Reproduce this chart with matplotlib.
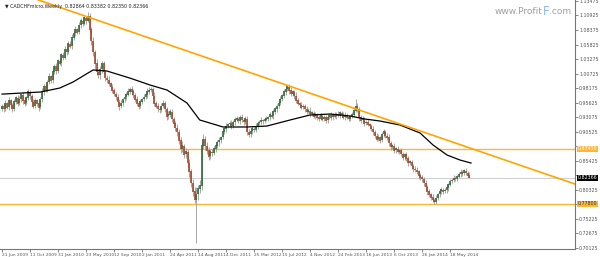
import numpy as np
import matplotlib
matplotlib.use('Agg')
import matplotlib.pyplot as plt

# weekly closes, CADCHF from 21 Jun 2009 (week 0)
closes = [
    0.950, 0.945, 0.955, 0.948, 0.960, 0.952, 0.945, 0.958, 0.965, 0.955,
    0.962, 0.970, 0.960, 0.955, 0.965, 0.975, 0.968, 0.958, 0.950, 0.960,
    0.955, 0.948, 0.962, 0.975, 0.985, 0.978, 0.992, 1.002, 0.995, 1.010,
    1.020, 1.012, 1.030, 1.025, 1.040, 1.035, 1.050, 1.045, 1.060, 1.055,
    1.070, 1.078, 1.085, 1.080, 1.092, 1.100, 1.095, 1.105, 1.100, 1.108,
    1.085, 1.065, 1.045, 1.025, 1.010, 1.005, 1.015, 1.025, 1.010, 1.000,
    0.996, 0.990, 0.984, 0.978, 0.972, 0.966, 0.958, 0.950, 0.955, 0.962,
    0.966, 0.970, 0.975, 0.980, 0.976, 0.970, 0.962, 0.955, 0.950, 0.958,
    0.962, 0.966, 0.970, 0.975, 0.978, 0.980, 0.968, 0.955, 0.950, 0.945,
    0.943, 0.950, 0.955, 0.945, 0.932, 0.935, 0.940, 0.928, 0.920, 0.912,
    0.905, 0.890, 0.875, 0.880, 0.865, 0.870, 0.850, 0.835, 0.815, 0.800,
    0.785, 0.795, 0.805, 0.810, 0.880, 0.892, 0.880, 0.872, 0.862, 0.870,
    0.868, 0.875, 0.880, 0.886, 0.890, 0.895, 0.905, 0.910, 0.915, 0.918,
    0.920, 0.915, 0.922, 0.926, 0.928, 0.924, 0.930, 0.926, 0.922, 0.928,
    0.905, 0.900, 0.906, 0.910, 0.908, 0.915, 0.920, 0.922, 0.925, 0.924,
    0.926, 0.928, 0.930, 0.935, 0.932, 0.940, 0.945, 0.950, 0.955, 0.962,
    0.968, 0.975, 0.980, 0.984, 0.978, 0.972, 0.975, 0.968, 0.960, 0.955,
    0.952, 0.948, 0.950, 0.945, 0.940, 0.942, 0.936, 0.938, 0.932, 0.935,
    0.930, 0.928, 0.933, 0.927, 0.930, 0.925, 0.930, 0.934, 0.930, 0.935,
    0.932, 0.936, 0.933, 0.938, 0.935, 0.930, 0.934, 0.930, 0.928, 0.932,
    0.935, 0.942, 0.950, 0.945, 0.930, 0.925, 0.928, 0.920, 0.922, 0.918,
    0.915, 0.910, 0.905, 0.898, 0.892, 0.895, 0.890, 0.900, 0.905, 0.898,
    0.895, 0.885, 0.878, 0.880, 0.872, 0.875, 0.870, 0.872, 0.866, 0.860,
    0.865, 0.858, 0.850, 0.852, 0.845, 0.840, 0.838, 0.835, 0.828, 0.825,
    0.822, 0.815, 0.808, 0.800, 0.795, 0.790, 0.785, 0.782, 0.788, 0.795,
    0.800, 0.803, 0.800, 0.802, 0.806, 0.812, 0.818, 0.820, 0.823, 0.822,
    0.826, 0.830, 0.834, 0.832, 0.836, 0.833, 0.82864, 0.82366,
]
first_open = 0.945

# wick lengths above / below the body, in thousandths
wick_up = [
    4, 3, 5, 2, 6, 3, 4, 5, 3, 4, 5, 3, 4, 6, 3, 5, 4, 3, 5, 4,
    3, 5, 4, 6, 3, 5, 4, 6, 3, 5, 4, 6, 3, 5, 4, 5, 6, 3, 5, 4,
    6, 4, 5, 3, 6, 4, 5, 3, 4, 7, 5, 4, 6, 3, 8, 5, 6, 4, 5, 3,
    4, 6, 3, 5, 4, 3, 6, 4, 5, 3, 5, 4, 6, 3, 5, 4, 3, 6, 4, 5,
    3, 5, 4, 6, 5, 4, 3, 6, 4, 5, 3, 6, 5, 4, 3, 6, 4, 5, 3, 4,
    6, 4, 5, 8, 4, 6, 5, 7, 4, 6, 8, 12, 7, 10, 6, 8, 5, 7, 6, 5,
    4, 5, 6, 4, 5, 3, 6, 4, 5, 3, 4, 5, 3, 4, 5, 3, 4, 6, 3, 4,
    5, 4, 3, 5, 4, 6, 3, 4, 5, 3, 4, 5, 3, 4, 6, 5, 4, 3, 5, 6,
    4, 5, 6, 3, 4, 5, 3, 4, 6, 4, 3, 5, 4, 3, 5, 4, 6, 3, 4, 5,
    3, 4, 5, 3, 4, 5, 3, 4, 5, 3, 4, 3, 5, 4, 3, 4, 5, 3, 4, 3,
    4, 6, 12, 5, 3, 4, 5, 3, 4, 5, 3, 4, 5, 3, 4, 6, 3, 5, 4, 3,
    4, 5, 3, 4, 5, 3, 4, 3, 5, 4, 3, 4, 5, 3, 4, 3, 5, 4, 3, 4,
    3, 4, 5, 3, 4, 3, 5, 4, 6, 3, 4, 5, 3, 4, 5, 3, 4, 3, 5, 4,
    3, 4, 5, 3, 4, 5, 3, 5,
]
wick_down = [
    3, 5, 4, 3, 5, 4, 6, 3, 4, 5, 3, 4, 6, 5, 3, 4, 5, 6, 4, 3,
    5, 6, 3, 4, 5, 3, 4, 3, 5, 4, 3, 5, 4, 3, 5, 4, 3, 5, 4, 3,
    4, 3, 5, 4, 3, 5, 4, 3, 5, 3, 6, 8, 7, 9, 6, 5, 7, 6, 5, 6,
    5, 4, 6, 5, 4, 6, 5, 7, 4, 5, 4, 5, 3, 4, 6, 5, 4, 5, 6, 4,
    5, 3, 4, 5, 3, 4, 6, 5, 4, 5, 6, 4, 3, 5, 6, 4, 5, 6, 5, 6,
    7, 6, 8, 5, 7, 6, 8, 9, 7, 8, 6, 76, 10, 8, 7, 6, 8, 6, 7, 5,
    6, 4, 5, 4, 6, 5, 3, 4, 5, 4, 5, 6, 4, 5, 3, 4, 5, 4, 6, 4,
    6, 5, 4, 5, 3, 4, 5, 4, 3, 5, 4, 3, 5, 4, 3, 5, 4, 5, 3, 4,
    3, 4, 5, 4, 6, 5, 4, 6, 5, 4, 5, 4, 3, 5, 4, 3, 5, 4, 3, 4,
    4, 5, 3, 4, 3, 5, 4, 3, 4, 5, 3, 4, 3, 4, 5, 3, 4, 3, 5, 4,
    3, 4, 3, 5, 6, 4, 3, 5, 4, 3, 5, 4, 6, 5, 4, 3, 5, 3, 4, 5,
    4, 6, 5, 3, 5, 4, 3, 5, 4, 5, 4, 5, 6, 4, 5, 6, 4, 5, 6, 5,
    5, 6, 5, 6, 5, 6, 4, 4, 5, 4, 5, 4, 5, 3, 4, 5, 3, 4, 3, 4,
    4, 3, 4, 5, 3, 4, 4, 0,
]

# moving average (week, value)
ma_week = [0, 22, 33, 40.6, 52, 60, 73, 84.6, 94.3, 105.7, 113, 126.3, 140,
           151.4, 164.6, 176, 187.4, 198.9, 207.4, 216, 227.4, 238.9, 246.3,
           254.3, 261.7, 268]
ma_val = [0.971, 0.9747, 0.9817, 0.9923, 1.0134, 1.0116, 0.9993, 0.9870,
          0.9782, 0.9554, 0.9255, 0.9132, 0.9132, 0.9149, 0.9255, 0.9343,
          0.9360, 0.9325, 0.9272, 0.9237, 0.9167, 0.9026, 0.8815, 0.8639,
          0.8551, 0.8498]

# resistance trend line (two points) and horizontal levels
trend_pts = [(49.1, 1.1066), (307.4, 0.834)]
level_hi = 0.87450
level_lo = 0.77800
last_price = 0.82366

date_labels = ['21 Jun 2009', '11 Oct 2009', '31 Jan 2010', '23 May 2010',
               '12 Sep 2010', '2 Jan 2011', '24 Apr 2011', '14 Aug 2011',
               '4 Dec 2011', '25 Mar 2012', '15 Jul 2012', '4 Nov 2012',
               '24 Feb 2013', '16 Jun 2013', '6 Oct 2013', '26 Jan 2014',
               '18 May 2014']
date_weeks = [16 * i for i in range(len(date_labels))]

price_ticks = [1.13475, 1.10925, 1.08375, 1.05825, 1.03275, 1.00725,
               0.98175, 0.95625, 0.93075, 0.90525, 0.87975, 0.85425,
               0.82875, 0.80325, 0.77775, 0.75225, 0.72675, 0.70125]

closes = np.array(closes)
opens = np.concatenate([[first_open], closes[:-1]])
highs = np.maximum(opens, closes) + np.array(wick_up) / 1000.0
lows = np.minimum(opens, closes) - np.array(wick_down) / 1000.0
weeks = np.arange(len(closes))

fig = plt.figure(figsize=(6, 2.57), dpi=100)
ax = fig.add_axes([0.0, 0.031, 0.9583, 0.969])

ax.axhline(last_price, color='#d0d0d0', lw=0.8, zorder=1)
ax.axhline(level_hi, color='#ffb733', lw=1.0, zorder=1)
ax.axhline(level_lo, color='#ffb733', lw=1.0, zorder=1)

ax.vlines(weeks, lows, highs, color='#9a9a9a', lw=0.6, zorder=2)
bull = closes >= opens
body_lo = np.minimum(opens, closes)
body_hi = np.maximum(opens, closes)
ax.vlines(weeks[bull], body_lo[bull], body_hi[bull] + 0.0008,
          color='#2e6b3a', lw=1.2, zorder=3)
ax.vlines(weeks[~bull], body_lo[~bull] - 0.0008, body_hi[~bull],
          color='#a8472a', lw=1.2, zorder=3)

ax.plot(ma_week, ma_val, color='black', lw=0.9, zorder=4)
ax.axline(trend_pts[0], trend_pts[1], color='#ffa500', lw=1.2, zorder=4)

ax.set_xlim(-1.14, 327.4)
ax.set_ylim(0.6986, 1.1365)

# tick labels hidden behind the highlighted price boxes are left blank
covered = [0.87975, 0.82875, 0.77775]
ax.yaxis.tick_right()
ax.set_yticks(price_ticks)
ax.set_yticklabels(['' if v in covered else '%.5f' % v for v in price_ticks])
ax.tick_params(axis='y', labelsize=3.4, length=2, width=0.5,
               colors='#555555', pad=1)
ax.set_xticks(date_weeks)
ax.set_xticklabels(date_labels, ha='left')
ax.tick_params(axis='x', labelsize=3.2, length=2, width=0.5,
               colors='#555555', pad=0.5)
for s in ['top', 'left']:
    ax.spines[s].set_visible(False)
for s in ['right', 'bottom']:
    ax.spines[s].set_color('#777777')
    ax.spines[s].set_linewidth(0.8)

# highlighted price labels on the axis
trans = ax.get_yaxis_transform()
for val, bg, fg in [(level_hi, '#ffb733', 'white'),
                    (level_lo, '#ffb733', '#333333'),
                    (last_price, 'black', 'white')]:
    ax.text(1.004, val, '%.5f' % val, transform=trans, fontsize=3.4,
            color=fg, va='center', ha='left',
            bbox=dict(boxstyle='square,pad=0.15', fc=bg, ec='none'))

fig.text(0.008, 0.985, '\u25bc CADCHFmicro,Weekly  0.82864 0.83382 0.82350 0.82366',
         fontsize=3.4, color='#222222', va='top', ha='left')

# watermark, drawn in three pieces so the F can be coloured
fig.canvas.draw()
renderer = fig.canvas.get_renderer()
x0 = 0.825
for part, size, col in [('www.Profit', 6.5, '#a0a0a0'), ('F', 8.5, '#8dbbe3'),
                        ('.com', 6.5, '#a0a0a0')]:
    t = fig.text(x0, 0.955, part, fontsize=size, color=col,
                 va='center', ha='left')
    bb = t.get_window_extent(renderer=renderer)
    x0 += bb.width / fig.bbox.width

fig.savefig('out.png', dpi=100)
